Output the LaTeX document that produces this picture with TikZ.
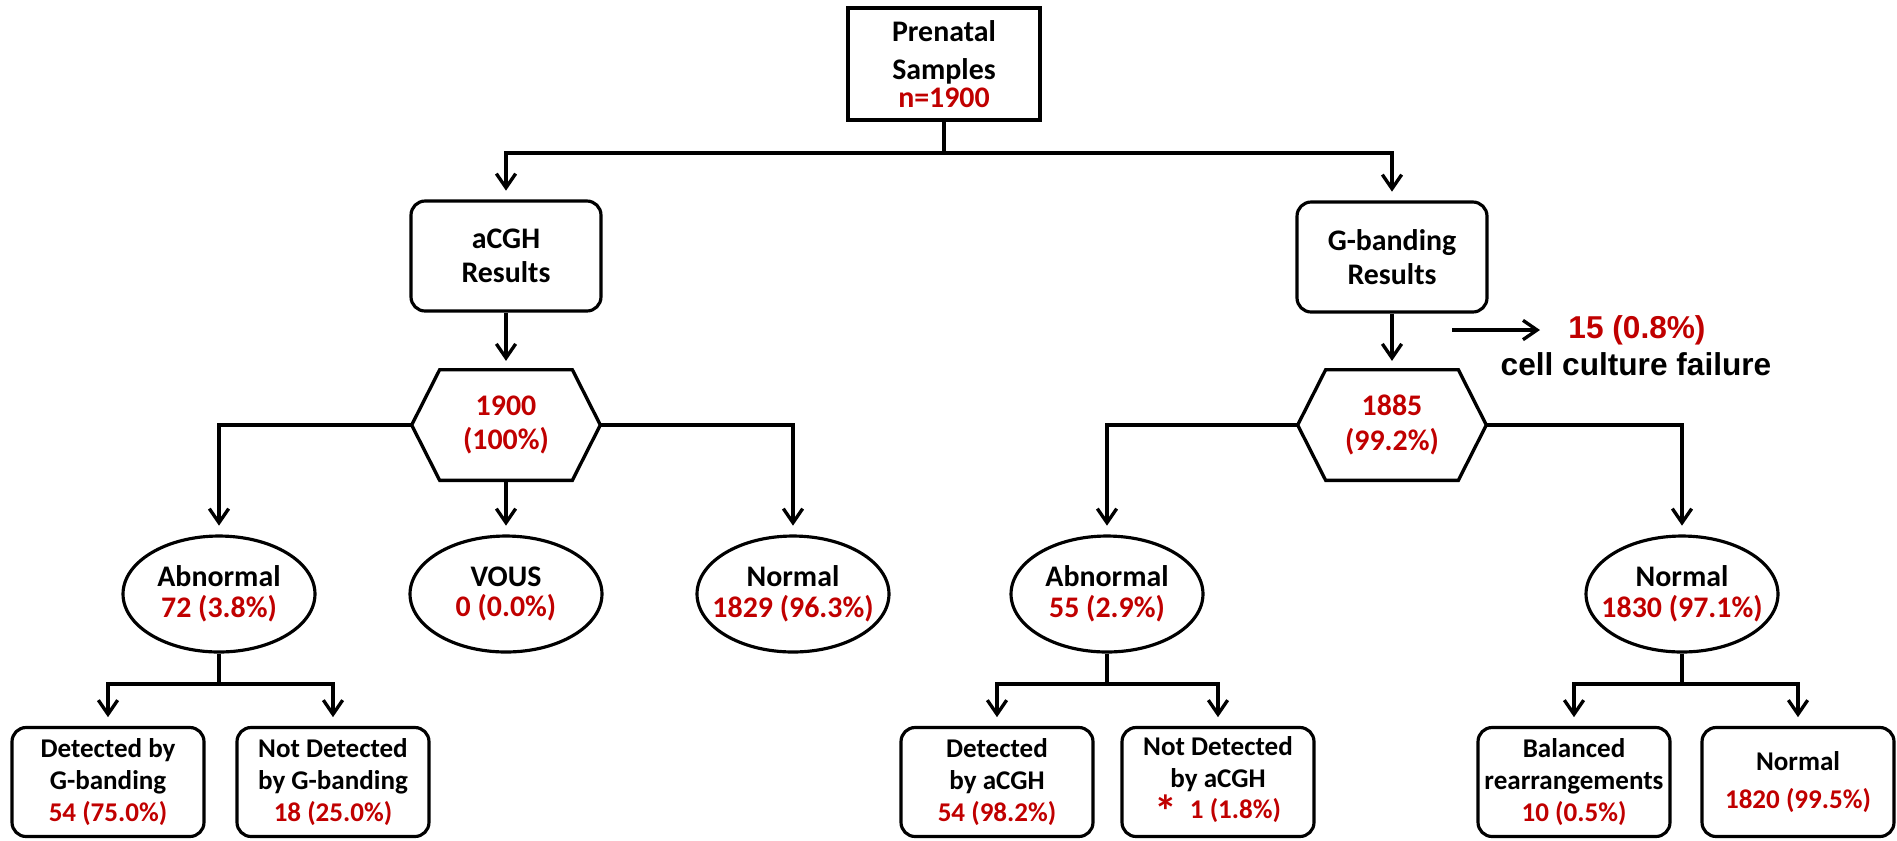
\documentclass[tikz,border=0pt]{standalone}
\usepackage{fontspec}
\setmainfont{Carlito}
\newfontfamily\arialfont{Liberation Sans}
\usetikzlibrary{shapes.geometric,arrows.meta,calc}
\definecolor{numred}{RGB}{192,0,0}

\begin{document}
\begin{tikzpicture}[x=0.02cm, y=-0.02cm,
                        every node/.style={font=\bfseries\fontsize{17}{19.5}\selectfont, align=center},
                        topbox/.style={draw, line width=2.4pt, minimum width=3.84cm, minimum height=2.24cm,
                                       font=\bfseries\fontsize{17}{22}\selectfont},
                        resbox/.style={draw, line width=1.8pt, rounded corners=8pt, minimum width=3.8cm, minimum height=2.2cm},
                        hexnode/.style={minimum width=3.76cm, minimum height=2.2cm, text=numred},
                        hexline/.style={line width=1.9pt, line join=miter},
                        oval/.style={draw, ellipse, line width=1.8pt, inner xsep=-15pt, inner ysep=0pt,
                                     minimum width=3.84cm, minimum height=2.32cm},
                        leaf/.style={draw, line width=1.8pt, rounded corners=8pt, inner xsep=0pt,
                                     minimum width=3.84cm, minimum height=2.18cm,
                                     font=\bfseries\fontsize{15.4}{18}\selectfont},
                        failnum/.style={inner sep=0pt, text=numred, font=\arialfont\bfseries\fontsize{18}{18}\selectfont},
                        failtxt/.style={inner sep=0pt, font=\arialfont\bfseries\fontsize{18}{18}\selectfont},
                        arr/.style={line width=1.9pt, -{Straight Barb[length=8pt, width=11pt]}, shorten >=5pt},
                        line/.style={line width=1.9pt}]
    \useasboundingbox (0,0) rectangle (1897,840);

    \node[topbox] (root) at (944,64) {Prenatal\\Samples\\[-6pt]\textcolor{numred}{n=1900}};
    \coordinate (rootbar) at (944,153);

    \node[resbox] (acgh) at (506,256) {aCGH\\Results};
    \node[resbox] (gband) at (1392,257) {G-banding\\Results};

    \node[hexnode] (hexL) at (506,425) {1900\\(100\%)};
    \node[hexnode] (hexR) at (1392,425) {1885\\(99.2\%)};
    \foreach \h in {hexL,hexR}
        \draw[hexline] (\h.west) -- ($(\h.north west)+(28,0)$) -- ($(\h.north east)+(-28,0)$)
            -- (\h.east) -- ($(\h.south east)+(-28,0)$) -- ($(\h.south west)+(28,0)$) -- cycle;

    \coordinate (cut) at (1452,330);
    \node[failnum] (fail) at (1637,330) {15 (0.8\%)};
    \node[failtxt] (failwhy) at (1636,364) {cell culture failure};

    \node[oval] (abnL) at (219,594) {Abnormal\\[-2pt]\textcolor{numred}{72 (3.8\%)}};
    \node[oval] (vous) at (506,594) {VOUS\\[-2pt]\textcolor{numred}{0 (0.0\%)}};
    \node[oval] (norL) at (793,594) {Normal\\[-2pt]\textcolor{numred}{1829 (96.3\%)}};
    \node[oval] (abnR) at (1107,594) {Abnormal\\[-2pt]\textcolor{numred}{55 (2.9\%)}};
    \node[oval] (norR) at (1682,594) {Normal\\[-2pt]\textcolor{numred}{1830 (97.1\%)}};

    \coordinate (abnLbar) at (219,684);
    \coordinate (abnRbar) at (1107,684);
    \coordinate (norRbar) at (1682,684);

    \node[leaf] (detgL) at (108,782) {Detected by\\G-banding\\\textcolor{numred}{54 (75.0\%)}};
    \node[leaf] (ndetgL) at (333,782) {Not Detected\\by G-banding\\\textcolor{numred}{18 (25.0\%)}};
    \node[leaf] (detaR) at (997,782) {Detected\\by aCGH\\\textcolor{numred}{54 (98.2\%)}};
    \node[leaf] (ndetaR) at (1218,782) {Not Detected\\by aCGH\\\textcolor{numred}{\raisebox{-5pt}{\fontsize{26}{26}\selectfont *}\ \ 1 (1.8\%)}};
    \node[leaf] (bal) at (1574,782) {Balanced\\rearrangements\\\textcolor{numred}{10 (0.5\%)}};
    \node[leaf] (norm) at (1798,782) {Normal\\[4pt]\textcolor{numred}{1820 (99.5\%)}};

    \draw[arr] (root.south) -- (rootbar) -| (acgh.north);
    \draw[arr] (rootbar) -| (gband.north);
    \draw[arr] (acgh.south) -- (hexL.north);
    \draw[arr] (gband.south) -- (hexR.north);
    \draw[arr, shorten >=16pt] (cut) -- (cut -| fail.west);

    \draw[arr] (hexL.west) -| (abnL.north);
    \draw[arr] (hexL.south) -- (vous.north);
    \draw[arr] (hexL.east) -| (norL.north);
    \draw[arr] (hexR.west) -| (abnR.north);
    \draw[arr] (hexR.east) -| (norR.north);

    \draw[arr] (abnL.south) -- (abnLbar) -| (detgL.north);
    \draw[arr] (abnLbar) -| (ndetgL.north);
    \draw[arr] (abnR.south) -- (abnRbar) -| (detaR.north);
    \draw[arr] (abnRbar) -| (ndetaR.north);
    \draw[arr] (norR.south) -- (norRbar) -| (bal.north);
    \draw[arr] (norRbar) -| (norm.north);
\end{tikzpicture}
\end{document}
